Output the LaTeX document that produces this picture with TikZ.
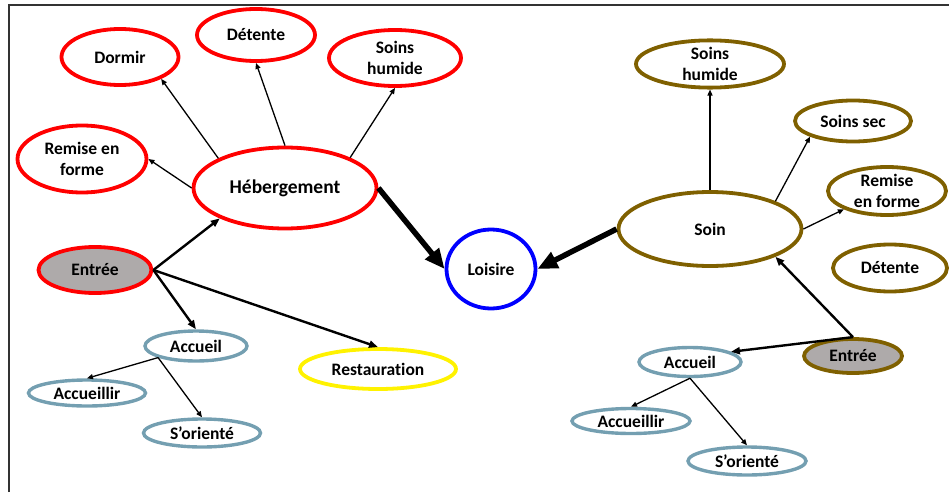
\documentclass[tikz,border=0pt]{standalone}
\usepackage{fontspec}
\setmainfont{Carlito}[Ligatures=CommonOff]
\usepackage{xcolor}
\usetikzlibrary{shapes.geometric,arrows.meta}
\definecolor{soinbrun}{RGB}{127,96,0}
\definecolor{accgris}{RGB}{116,159,177}
\definecolor{entgris}{RGB}{174,170,170}

\begin{document}
\begin{tikzpicture}[x=1pt,y=-1pt,
  bulle/.style={ellipse,draw,line width=3.8pt,inner sep=0pt,align=center,
    font=\bfseries\fontsize{17.5}{21}\selectfont},
  rouge/.style={bulle,draw=red},
  brun/.style={bulle,draw=soinbrun},
  acc/.style={bulle,draw=accgris,line width=3.4pt},
  fin/.style={-{Triangle[length=6pt,width=5pt]},line width=1.3pt},
  moyen/.style={-{Triangle[length=9pt,width=7pt]},line width=2.4pt},
  gros/.style={-{Triangle[length=20pt,width=17pt]},line width=5.5pt}]
  \useasboundingbox (0,0) rectangle (949,492);
  \draw[line width=2pt,black!80] (9,492) -- (9,5) -- (949,5);

  \node[rouge,minimum width=183pt,minimum height=81pt,
    font=\bfseries\fontsize{19.5}{23}\selectfont] (heb) at (285,188) {Hébergement};
  \node[rouge,minimum width=117pt,minimum height=56pt] (dormir) at (120,57) {Dormir};
  \node[rouge,minimum width=118pt,minimum height=52pt] (detente) at (256,35) {Détente};
  \node[rouge,minimum width=132pt,minimum height=56pt] (soinshL) at (395,58) {Soins\\humide};
  \node[rouge,minimum width=129pt,minimum height=67pt] (remiseL) at (82,159) {Remise en\\forme};
  \node[rouge,fill=entgris,minimum width=113pt,minimum height=46pt] (entreeL) at (95,270) {Entrée};
  \node[acc,minimum width=102pt,minimum height=30pt] (accueilL) at (196,346) {Accueil};
  \node[acc,minimum width=117pt,minimum height=26pt] (accueillirL) at (87,393) {Accueillir};
  \node[acc,minimum width=117pt,minimum height=28pt] (sorienteL) at (202,433) {S’orienté};
  \node[bulle,draw=yellow,minimum width=156pt,minimum height=40pt] (restau) at (378,369) {Restauration};
  \node[bulle,draw=blue,minimum width=89pt,minimum height=79pt] (loisire) at (491,269) {Loisire};

  \node[brun,minimum width=183pt,minimum height=74pt] (soin) at (710,229) {Soin};
  \node[brun,minimum width=148pt,minimum height=44pt] (soinshR) at (710,64) {Soins\\humide};
  \node[brun,minimum width=116pt,minimum height=41pt] (soinssec) at (853,121) {Soins sec};
  \node[brun,minimum width=118pt,minimum height=48pt] (remiseR) at (887,191) {Remise\\en forme};
  \node[brun,minimum width=114pt,minimum height=47pt] (detenteR) at (890,268) {Détente};
  \node[brun,fill=entgris,minimum width=98pt,minimum height=34pt] (entreeR) at (853,356) {Entrée};
  \node[acc,minimum width=102pt,minimum height=29pt] (accueilR) at (690,362) {Accueil};
  \node[acc,minimum width=118pt,minimum height=25pt] (accueillirR) at (631,421) {Accueillir};
  \node[acc,minimum width=118pt,minimum height=28pt] (sorienteR) at (747,461) {S’orienté};

  \draw[fin] (heb.156) -- (dormir.332);
  \draw[fin] (heb.north) -- (detente.south);
  \draw[fin] (heb.25) -- (soinshL.south);
  \draw[fin] (heb.west) -- (remiseL.east);
  \draw[moyen] (entreeL.east) -- (heb.205);
  \draw[moyen] (entreeL.east) -- (accueilL.north);
  \draw[moyen] (entreeL.east) -- (restau.north);
  \draw[fin] (accueilL.197) -- (accueillirL.north);
  \draw[fin] (accueilL.197) -- (sorienteL.north);
  \draw[gros] (heb.east) -- (loisire.west);

  \draw[gros] (soin.west) -- (loisire.east);
  \draw[fin] (soin.north) -- (soinshR.south);
  \draw[fin] (soin.23) -- (soinssec.200);
  \draw[fin] (soin.east) -- (remiseR.203);
  \draw[moyen] (entreeR.north) -- (soin.337);
  \draw[moyen] (entreeR.north) -- (accueilR.14);
  \draw[fin] (accueilR.south) -- (accueillirR.north);
  \draw[fin] (accueilR.south) -- (sorienteR.north);
\end{tikzpicture}
\end{document}
